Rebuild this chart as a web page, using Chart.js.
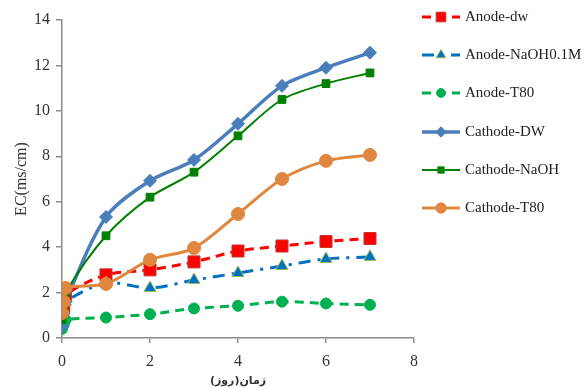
<!DOCTYPE html>
<html>
<head>
<meta charset="utf-8">
<script src="https://cdn.jsdelivr.net/npm/chart.js@4.4.1/dist/chart.umd.min.js"></script>
<style>
  html, body { margin: 0; padding: 0; background: #fff; }
  #wrap { width: 587px; height: 388px; position: relative; }
</style>
</head>
<body>
<div id="wrap"><canvas id="c" width="587" height="388"></canvas></div>
<script>
// Sampling times in days (first three readings are taken within the first hours)
const days = [0, 0.04, 0.08, 1, 2, 3, 4, 5, 6, 7];

// Electrical conductivity, EC (ms/cm)
const anodeDw      = [0.9, 1.4, 1.9, 2.78, 3.0, 3.35, 3.83, 4.05, 4.25, 4.38];
const anodeNaOH    = [0.7, 1.2, 1.6, 2.42, 2.2, 2.55, 2.86, 3.17, 3.48, 3.57];
const anodeT80     = [0.4, 0.6, 0.8, 0.9, 1.05, 1.3, 1.42, 1.6, 1.52, 1.46];
const cathodeDW    = [0.5, 1.1, 1.6, 5.33, 6.92, 7.84, 9.43, 11.1, 11.9, 12.56];
const cathodeNaOH  = [0.8, 1.4, 2.0, 4.5, 6.2, 7.3, 8.9, 10.5, 11.2, 11.67];
const cathodeT80   = [1.1, 1.6, 2.2, 2.38, 3.44, 3.96, 5.46, 7.0, 7.8, 8.06];

const seriesNames = ['Anode-dw', 'Anode-NaOH0.1M', 'Anode-T80', 'Cathode-DW', 'Cathode-NaOH', 'Cathode-T80'];
const xTicks = [0, 2, 4, 6, 8];
const yTicks = [0, 2, 4, 6, 8, 10, 12, 14];
const xTitle = 'زمان(روز)';
const yTitle = 'EC(ms/cm)';

const pts = vals => vals.map((v, i) => ({ x: days[i], y: v }));

const styles = [
  { color: '#FF0000', dash: [9, 6], width: 3, point: 'rect', radius: 8.5, pborder: '#C0392B' },
  { color: '#0070C0', dash: [12, 7, 3, 7], width: 3, point: 'triangle', radius: 7, pborder: '#9BBB59' },
  { color: '#00B050', dash: [9, 6], width: 3, point: 'circle', radius: 5.5, pborder: '#00B050' },
  { color: '#4A7EBB', dash: [], width: 3.5, point: 'rectRot', radius: 6.5, pborder: '#4A7EBB' },
  { color: '#008000', dash: [], width: 2, point: 'rect', radius: 5.5, pborder: '#008000' },
  { color: '#E0873F', dash: [], width: 3, point: 'circle', radius: 6.5, pborder: '#E0873F' }
];

const values = [anodeDw, anodeNaOH, anodeT80, cathodeDW, cathodeNaOH, cathodeT80];

const datasets = values.map((vals, i) => ({
  label: seriesNames[i],
  data: pts(vals),
  showLine: true,
  borderColor: styles[i].color,
  borderWidth: styles[i].width,
  borderDash: styles[i].dash,
  backgroundColor: styles[i].color,
  pointStyle: styles[i].point,
  pointRadius: styles[i].radius,
  pointHoverRadius: styles[i].radius,
  pointBorderColor: styles[i].pborder,
  pointBorderWidth: 1,
  pointBackgroundColor: styles[i].color,
  tension: 0.3,
  order: values.length - i
}));

// Legend on the right: line sample with marker, then the series name
const sideLegend = {
  id: 'sideLegend',
  afterDraw(chart) {
    const ctx = chart.ctx;
    const rows = [17, 55, 93, 132, 170, 208];
    const x0 = 422, x1 = 460, tx = 465;
    chart.data.datasets.forEach((ds, i) => {
      const y = rows[i];
      ctx.save();
      ctx.strokeStyle = ds.borderColor;
      ctx.lineWidth = ds.borderWidth;
      ctx.setLineDash(ds.borderDash || []);
      ctx.beginPath();
      ctx.moveTo(x0, y);
      ctx.lineTo(x1, y);
      ctx.stroke();
      ctx.setLineDash([]);
      ctx.fillStyle = ds.pointBackgroundColor;
      ctx.strokeStyle = ds.pointBorderColor;
      ctx.lineWidth = 1;
      Chart.helpers.drawPoint(ctx, {
        pointStyle: ds.pointStyle,
        radius: ds.pointRadius * 0.8,
        rotation: 0,
        borderWidth: 1
      }, (x0 + x1) / 2, y);
      ctx.fillStyle = '#222';
      ctx.font = '15px "Liberation Serif", "Times New Roman", serif';
      ctx.textBaseline = 'middle';
      ctx.textAlign = 'left';
      ctx.fillText(ds.label, tx, y);
      ctx.restore();
    });
  }
};

const axisGrey = '#8C8C8C';
const tickFont = { family: '"Liberation Serif", "Times New Roman", serif', size: 16 };

new Chart(document.getElementById('c'), {
  type: 'scatter',
  data: { datasets },
  options: {
    responsive: false,
    animation: false,
    events: [],
    layout: { padding: { left: 12, right: 173, top: 20, bottom: 0 } },
    plugins: { legend: { display: false }, tooltip: { enabled: false } },
    scales: {
      x: {
        type: 'linear',
        min: 0, max: 8,
        afterBuildTicks: s => { s.ticks = xTicks.map(v => ({ value: v })); },
        afterFit: s => { s.height = 50; },
        border: { display: true, color: axisGrey, width: 1.5 },
        grid: { display: true, drawOnChartArea: false, drawTicks: true, tickLength: 5, color: axisGrey, lineWidth: 1.5 },
        ticks: { color: '#333', font: tickFont, padding: 9 },
        title: {
          display: true, text: xTitle, color: '#333',
          font: { family: '"DejaVu Sans", sans-serif', size: 11, weight: 'bold' },
          padding: { top: 0, bottom: 0 }
        }
      },
      y: {
        type: 'linear',
        min: 0, max: 14,
        afterBuildTicks: s => { s.ticks = yTicks.map(v => ({ value: v })); },
        afterFit: s => { s.width = 50; },
        border: { display: true, color: axisGrey, width: 1.5 },
        grid: { display: true, drawOnChartArea: false, drawTicks: true, tickLength: 6, color: axisGrey, lineWidth: 1.5 },
        ticks: { color: '#333', font: tickFont, padding: 6 },
        title: {
          display: true, text: yTitle, color: '#333',
          font: { family: '"Liberation Serif", "Times New Roman", serif', size: 16 },
          padding: { top: 0, bottom: 0 }
        }
      }
    }
  },
  plugins: [sideLegend]
});
</script>
</body>
</html>
